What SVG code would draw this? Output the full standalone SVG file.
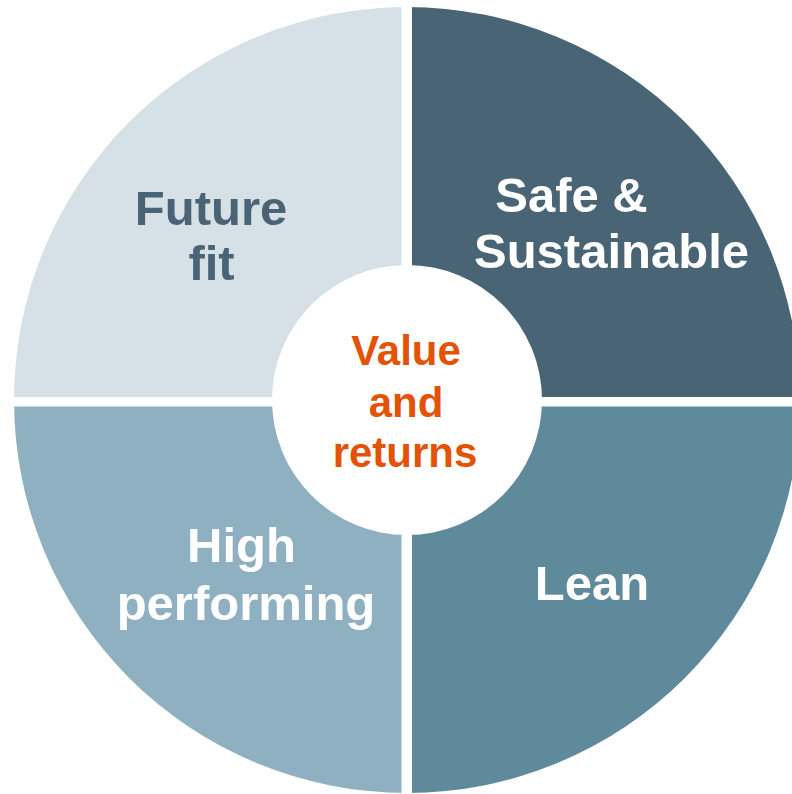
<svg xmlns="http://www.w3.org/2000/svg" width="792" height="794" viewBox="0 0 792 794">
<style>
text{font-family:"Liberation Sans",Arial,sans-serif;font-weight:bold;text-anchor:middle}
.q{font-size:49px;fill:#ffffff}
.dark{fill:#4A6475}
.c{font-size:42px;fill:#E35205}
</style>
<rect width="792" height="794" fill="#ffffff"/>
<defs>
<clipPath id="disc"><circle cx="407" cy="400" r="393"/></clipPath>
</defs>
<g clip-path="url(#disc)">
<g id="future-fit">
<rect x="0" y="0" width="401.5" height="397" fill="#D6E0E7"/>
<text class="q dark" x="211" y="225">Future</text>
<text class="q dark" x="211.5" y="280">fit</text>
</g>
<g id="safe-sustainable">
<rect x="412" y="0" width="400" height="397" fill="#486475"/>
<text class="q" x="571.5" y="212">Safe &amp;</text>
<text class="q" x="611.5" y="268">Sustainable</text>
</g>
<g id="high-performing">
<rect x="0" y="406.5" width="401.5" height="400" fill="#8FB0C0"/>
<text class="q" x="241.5" y="562">High</text>
<text class="q" x="246" y="620">performing</text>
</g>
<g id="lean">
<rect x="412" y="406.5" width="400" height="400" fill="#5E8A9C"/>
<text class="q" x="592" y="600">Lean</text>
</g>
</g>
<g id="center">
<circle cx="407" cy="400" r="135" fill="#ffffff"/>
<text class="c" x="406" y="365">Value</text>
<text class="c" x="406" y="417">and</text>
<text class="c" x="405" y="467">returns</text>
</g>
<g id="connectors"></g>
</svg>
